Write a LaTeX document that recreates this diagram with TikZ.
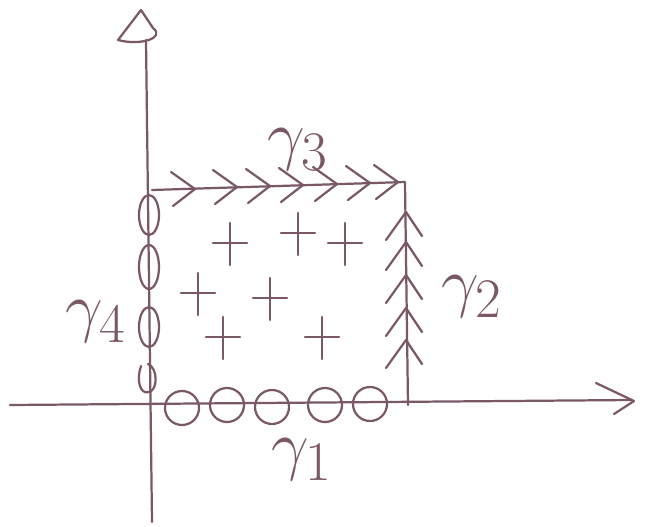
\documentclass[tikz,border=0pt]{standalone}
\usepackage{amsmath}
\usepackage{graphicx}
\usepackage{tikz}
\usetikzlibrary{calc}
\usetikzlibrary{positioning}
\definecolor{pencil}{RGB}{122,88,104}
\tikzset{pen/.style={draw=pencil, line width=1.9pt, line cap=round, line join=round},
         lbl/.style={text=pencil, font=\Huge, inner sep=0pt}}
\newcommand{\curvelbl}[1]{\scalebox{2.3}{$\gamma_{#1}$}}

\begin{document}
\begin{tikzpicture}[x=0.03cm,y=-0.03cm]
\useasboundingbox (0,0) rectangle (651,526);
% axes
\draw[pen] (10,405) -- (632,400);
\draw[pen] (596,383) -- (634,401) -- (614,414);
\draw[pen] (152,522) -- (146,40);
\draw[pen] (141,10) -- (118,40) .. controls (140,46) and (166,38) .. (153,28) -- cycle;
% gamma 3, top side
\draw[pen] (152,190) -- (405,182);
\foreach \x/\y in {195/189, 237/187, 270/186, 303/185, 337/184, 370/183, 398/182}
  \draw[pen] (\x-24,\y-17) -- (\x,\y) -- (\x-22,\y+17);
% gamma 2, right side
\draw[pen] (408,405) -- (405,183);
\foreach \y in {212,242,275,308,340}
  \draw[pen] (386,\y+28) -- (406,\y) -- (422,\y+24);
% gamma 1, bottom side
\foreach \x/\y in {182/408, 227/405, 272/407, 325/405, 370/404}
  \draw[pen] (\x,\y) ellipse [x radius=17, y radius=17];
% gamma 4, left side
\foreach \y/\r in {215/20, 267/22, 327/20}
  \draw[pen] (149,\y) ellipse [x radius=10, y radius=\r];
\draw[pen] (141,366) .. controls (136,380) and (140,395) .. (149,392) .. controls (158,390) and (158,368) .. (148,364);
% inside
\foreach \x/\y in {230/243, 298/233, 345/243, 198/293, 270/298, 223/337, 322/337}
  \draw[pen] (\x-17,\y) -- (\x+17,\y) (\x,\y-20) -- (\x,\y+22);
% labels
\node[lbl] (g3) at (298,150) {\curvelbl{3}};
\node[lbl] (g2) at (472,297) {\curvelbl{2}};
\node[lbl] (g4) at (96,322) {\curvelbl{4}};
\node[lbl] (g1) at (302,460) {\curvelbl{1}};
\end{tikzpicture}
\end{document}
